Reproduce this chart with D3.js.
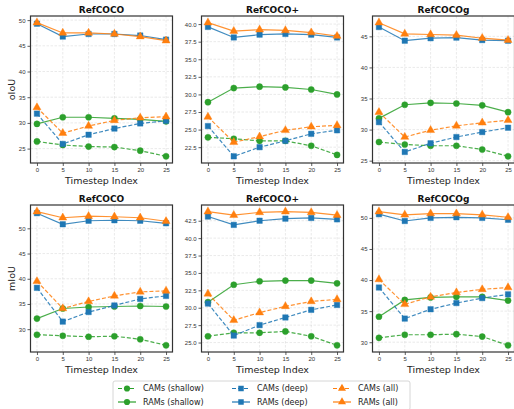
<!DOCTYPE html>
<html>
<head>
<meta charset="utf-8">
<script src="https://cdn.jsdelivr.net/npm/d3@7"></script>
<style>
  body { margin: 0; background: #fff; }
  svg { font-family: "DejaVu Sans", sans-serif; }
  .tick text { fill: #333; font-size: 6px; }
  .tick line { stroke: #333; }
</style>
</head>
<body>
<div id="chart"></div>
<script>
// Chart data
var steps = [0, 5, 10, 15, 20, 25];
var datasets = ["RefCOCO", "RefCOCO+", "RefCOCOg"];
var metrics = ["oIoU", "mIoU"];
var seriesNames = ["CAMs (shallow)", "RAMs (shallow)", "CAMs (deep)", "RAMs (deep)", "CAMs (all)", "RAMs (all)"];

// values per panel, in seriesNames order
var oiouRefcoco = [
  [26.4, 25.7, 25.4, 25.3, 24.6, 23.5],
  [29.8, 31.1, 31.1, 30.9, 30.7, 30.3],
  [31.8, 25.9, 27.7, 28.9, 29.9, 30.4],
  [49.3, 46.8, 47.3, 47.3, 47.0, 46.2],
  [33.0, 28.0, 29.4, 30.5, 31.0, 31.2],
  [49.5, 47.5, 47.5, 47.3, 46.8, 46.0]
];
var oiouRefcocoPlus = [
  [23.9, 23.7, 23.4, 23.4, 22.7, 21.4],
  [28.9, 30.9, 31.1, 31.0, 30.7, 30.0],
  [25.5, 21.2, 22.5, 23.4, 24.4, 24.9],
  [39.6, 38.1, 38.5, 38.6, 38.5, 38.1],
  [26.8, 23.2, 24.0, 24.9, 25.4, 25.6],
  [40.2, 39.0, 39.2, 39.1, 38.8, 38.3]
];
var oiouRefcocog = [
  [28.0, 27.6, 27.4, 27.4, 26.8, 25.7],
  [31.8, 34.0, 34.3, 34.2, 33.9, 32.8],
  [31.2, 26.4, 27.8, 28.8, 29.6, 30.3],
  [46.5, 44.3, 44.7, 44.8, 44.4, 44.3],
  [32.8, 28.8, 29.9, 30.6, 31.1, 31.5],
  [47.2, 45.4, 45.3, 45.2, 44.7, 44.4]
];
var miouRefcoco = [
  [28.9, 28.7, 28.5, 28.6, 28.0, 26.8],
  [32.1, 34.1, 34.4, 34.5, 34.6, 34.5],
  [38.2, 31.5, 33.4, 34.7, 36.0, 36.6],
  [53.0, 50.8, 51.5, 51.6, 51.5, 51.0],
  [39.5, 34.1, 35.5, 36.6, 37.4, 37.6],
  [53.3, 52.1, 52.4, 52.3, 52.1, 51.4]
];
var miouRefcocoPlus = [
  [25.9, 26.4, 26.4, 26.6, 25.9, 24.6],
  [30.8, 33.3, 33.8, 33.9, 33.9, 33.5],
  [30.6, 26.0, 27.5, 28.6, 29.7, 30.4],
  [43.1, 41.9, 42.5, 42.8, 42.9, 42.7],
  [32.0, 28.2, 29.3, 30.2, 30.9, 31.2],
  [43.8, 43.3, 43.7, 43.8, 43.7, 43.3]
];
var miouRefcocog = [
  [30.7, 31.2, 31.2, 31.3, 30.9, 29.5],
  [34.1, 36.8, 37.2, 37.3, 37.3, 36.7],
  [38.8, 33.8, 35.3, 36.3, 37.1, 37.7],
  [50.6, 49.5, 50.0, 50.1, 50.0, 49.7],
  [40.1, 36.1, 37.3, 38.0, 38.5, 38.8],
  [51.0, 50.5, 50.7, 50.7, 50.5, 50.1]
];

// y tick values per panel
var ticksOiouRefcoco = [25, 30, 35, 40, 45, 50];
var ticksOiouRefcocoPlus = [22.5, 25, 27.5, 30, 32.5, 35, 37.5, 40];
var ticksOiouRefcocog = [25, 30, 35, 40, 45];
var ticksMiouRefcoco = [30, 35, 40, 45, 50];
var ticksMiouRefcocoPlus = [25, 27.5, 30, 32.5, 35, 37.5, 40, 42.5];
var ticksMiouRefcocog = [30, 35, 40, 45, 50];

var panels = [
  { row: 0, col: 0, values: oiouRefcoco, ticks: ticksOiouRefcoco, fmt: "d" },
  { row: 0, col: 1, values: oiouRefcocoPlus, ticks: ticksOiouRefcocoPlus, fmt: ".1f" },
  { row: 0, col: 2, values: oiouRefcocog, ticks: ticksOiouRefcocog, fmt: "d" },
  { row: 1, col: 0, values: miouRefcoco, ticks: ticksMiouRefcoco, fmt: "d" },
  { row: 1, col: 1, values: miouRefcocoPlus, ticks: ticksMiouRefcocoPlus, fmt: ".1f" },
  { row: 1, col: 2, values: miouRefcocog, ticks: ticksMiouRefcocog, fmt: "d" }
];

// styles
var colors = ["#2ca02c", "#2ca02c", "#1f77b4", "#1f77b4", "#ff7f0e", "#ff7f0e"];
var dashed = [true, false, true, false, true, false];
var shapes = [d3.symbolCircle, d3.symbolCircle, d3.symbolSquare, d3.symbolSquare, d3.symbolTriangle, d3.symbolTriangle];
var symSize = [30, 30, 30, 30, 28, 28];

var width = 514, height = 409;
var colX = [30.5, 201.5, 372.5], panelW = 142;
var rowY = [16, 205], panelH = 147;

var svg = d3.select("#chart").append("svg")
  .attr("width", width)
  .attr("height", height);

panels.forEach(function(p) {
  var x0 = colX[p.col], y0 = rowY[p.row];
  var g = svg.append("g").attr("transform", "translate(" + x0 + "," + y0 + ")");

  var all = d3.merge(p.values);
  var lo = d3.min(all), hi = d3.max(all), pad = (hi - lo) * 0.05;

  var x = d3.scaleLinear().domain([-1.25, 26.25]).range([0, panelW]);
  var y = d3.scaleLinear().domain([lo - pad, hi + pad]).range([panelH, 0]);

  // grid
  g.append("g").selectAll("line.gx")
    .data(steps).enter().append("line")
    .attr("x1", function(d) { return x(d); }).attr("x2", function(d) { return x(d); })
    .attr("y1", 0).attr("y2", panelH)
    .attr("stroke", "#b0b0b0").attr("stroke-opacity", 0.45)
    .attr("stroke-width", 0.6).attr("stroke-dasharray", "2.5,1.5");
  g.append("g").selectAll("line.gy")
    .data(p.ticks).enter().append("line")
    .attr("y1", function(d) { return y(d); }).attr("y2", function(d) { return y(d); })
    .attr("x1", 0).attr("x2", panelW)
    .attr("stroke", "#b0b0b0").attr("stroke-opacity", 0.45)
    .attr("stroke-width", 0.6).attr("stroke-dasharray", "2.5,1.5");

  // axes
  var xAxis = d3.axisBottom(x).tickValues(steps).tickSize(3).tickPadding(2).tickFormat(d3.format("d"));
  var yAxis = d3.axisLeft(y).tickValues(p.ticks).tickSize(3).tickPadding(2).tickFormat(d3.format(p.fmt));
  var gx = g.append("g").attr("transform", "translate(0," + panelH + ")").call(xAxis);
  var gy = g.append("g").call(yAxis);
  gx.select(".domain").remove();
  gy.select(".domain").remove();
  gx.selectAll(".tick line").attr("stroke-width", 0.8);
  gy.selectAll(".tick line").attr("stroke-width", 0.8);

  // series lines
  var line = d3.line()
    .x(function(d, i) { return x(steps[i]); })
    .y(function(d) { return y(d); });

  p.values.forEach(function(vals, s) {
    g.append("path")
      .attr("d", line(vals))
      .attr("fill", "none")
      .attr("stroke", colors[s])
      .attr("stroke-width", 1.2)
      .attr("stroke-opacity", 0.85)
      .attr("stroke-dasharray", dashed[s] ? "4,2" : null);
    g.append("g").selectAll("path")
      .data(vals).enter().append("path")
      .attr("d", d3.symbol().type(shapes[s]).size(symSize[s]))
      .attr("transform", function(d, i) { return "translate(" + x(steps[i]) + "," + y(d) + ")"; })
      .attr("fill", colors[s])
      .attr("stroke", colors[s])
      .attr("stroke-opacity", 0.5)
      .attr("stroke-width", 0.8);
  });

  // frame
  g.append("rect")
    .attr("width", panelW).attr("height", panelH)
    .attr("fill", "none").attr("stroke", "#333").attr("stroke-width", 1.2);

  // title
  g.append("text")
    .text(datasets[p.col])
    .attr("x", panelW / 2).attr("y", -3.5)
    .attr("text-anchor", "middle")
    .attr("font-size", 9).attr("font-weight", "bold").attr("fill", "#111");

  // x label
  g.append("text")
    .text("Timestep Index")
    .attr("x", panelW / 2).attr("y", panelH + 20.5)
    .attr("text-anchor", "middle")
    .attr("font-size", 9.5).attr("fill", "#222");

  // y label
  if (p.col === 0) {
    g.append("text")
      .text(metrics[p.row])
      .attr("transform", "translate(-15.5," + (panelH / 2) + ") rotate(-90)")
      .attr("text-anchor", "middle")
      .attr("font-size", 9.5).attr("fill", "#222");
  }
});

// legend
var legend = svg.append("g").attr("transform", "translate(113,381)");
legend.append("rect")
  .attr("width", 297).attr("height", 29).attr("rx", 2)
  .attr("fill", "#fff").attr("stroke", "#ccc").attr("stroke-width", 0.8);

var legX = [5, 119, 220];
seriesNames.forEach(function(name, s) {
  var c = Math.floor(s / 2), r = s % 2;
  var lg = legend.append("g").attr("transform", "translate(" + legX[c] + "," + (7.5 + r * 13.5) + ")");
  lg.append("line")
    .attr("x1", 0).attr("x2", 18).attr("y1", 0).attr("y2", 0)
    .attr("stroke", colors[s]).attr("stroke-width", 1.2)
    .attr("stroke-dasharray", dashed[s] ? "4,2" : null);
  lg.append("path")
    .attr("d", d3.symbol().type(shapes[s]).size(symSize[s]))
    .attr("transform", "translate(9,0)")
    .attr("fill", colors[s]);
  lg.append("text")
    .text(name)
    .attr("x", 25).attr("y", 2.8)
    .attr("font-size", 8).attr("fill", "#222");
});
</script>
</body>
</html>
